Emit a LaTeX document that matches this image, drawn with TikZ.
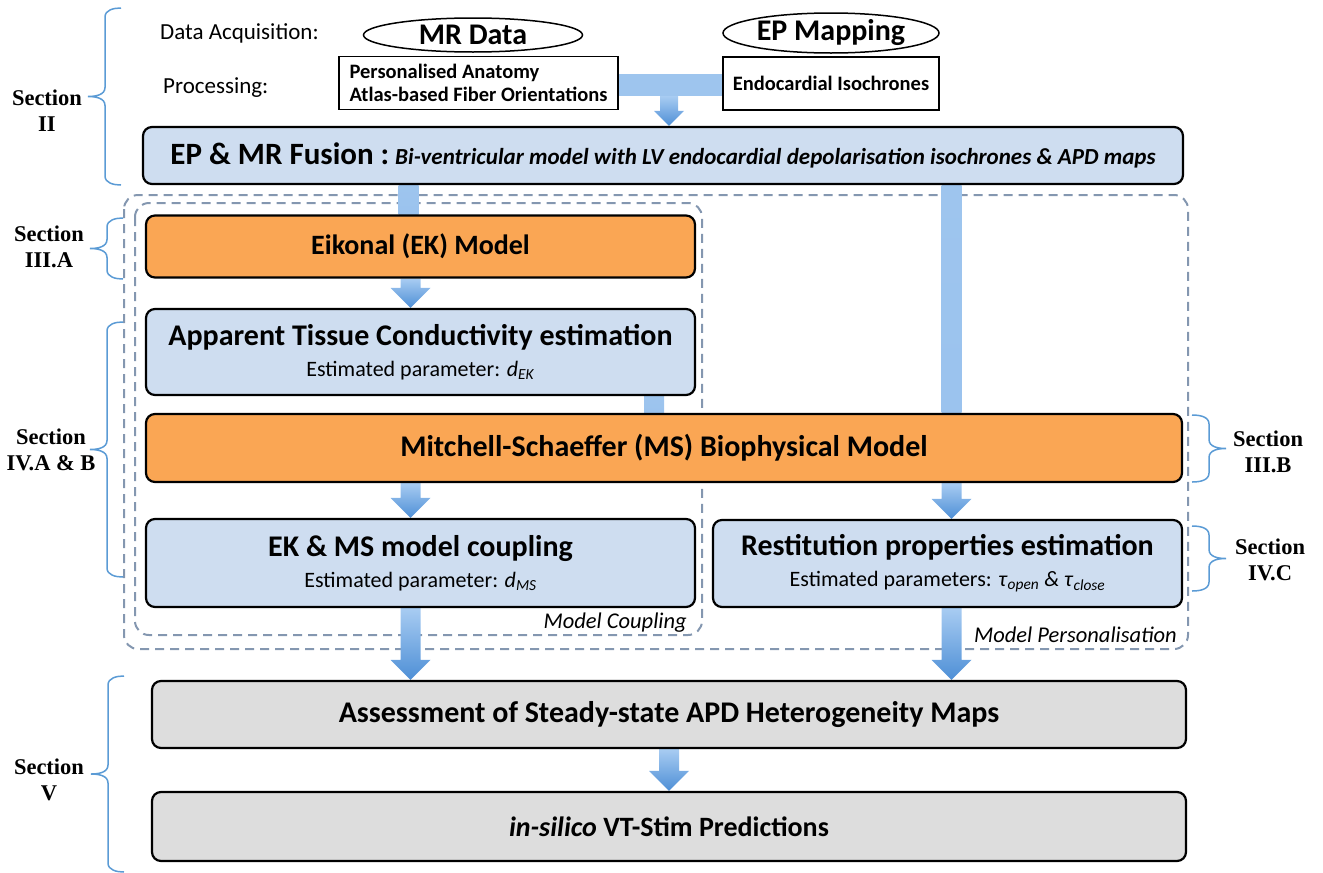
\documentclass[tikz,border=0pt]{standalone}
\usepackage{fontspec}
\setmainfont{Carlito}
\newfontfamily\secfont{Liberation Serif}
\usetikzlibrary{shapes.geometric,calc}
\pgfdeclarelayer{background}
\pgfsetlayers{background,main}
\definecolor{boxblue}{HTML}{CEDDF0}
\definecolor{boxorange}{HTML}{FAA654}
\definecolor{boxgray}{HTML}{DDDDDD}
\definecolor{dashc}{HTML}{8497B0}
\definecolor{bracec}{HTML}{5B9BD5}
\definecolor{arrtop}{HTML}{A8CCF2}
\definecolor{arrbot}{HTML}{4E8FD6}
\definecolor{barlight}{HTML}{9EC5EE}
\newcommand{\fsz}[2]{\fontsize{#1}{#2}\selectfont}
% block arrow: #1 start (y used), #2 tip (x and y used), #3 shaft half width, #4 head half width, #5 head length
\newcommand{\arrowdownx}[5]{%
  \shade[top color=arrtop,bottom color=arrbot] let \p1=(#1), \p2=(#2) in
  (\x2-#3,\y1) -- (\x2+#3,\y1) -- (\x2+#3,\y2+#5) -- (\x2+#4,\y2+#5)
  -- (\x2,\y2) -- (\x2-#4,\y2+#5) -- (\x2-#3,\y2+#5) -- cycle;}
\newcommand{\arrowdown}[2]{\arrowdownx{#1}{#2}{10pt}{20pt}{20pt}}
\newcommand{\bardown}[2]{%
  \shade[top color=barlight,bottom color=arrtop!85!arrbot] let \p1=(#1), \p2=(#2) in
  (\x2-10pt,\y1) rectangle (\x2+10pt,\y2);}
\newcommand{\leftbrace}[3]{%
  \draw[bracestyle] (#1,#2) to[out=180,in=90] ({#1-16},{#2+9}) -- ({#1-16},{(#2+#3)/2-9})
  to[out=-90,in=0] ({#1-33},{(#2+#3)/2}) to[out=0,in=90] ({#1-16},{(#2+#3)/2+9})
  -- ({#1-16},{#3-9}) to[out=-90,in=180] (#1,#3);}
\newcommand{\rightbrace}[3]{%
  \draw[bracestyle] (#1,#2) to[out=0,in=90] ({#1+17},{#2+9}) -- ({#1+17},{(#2+#3)/2-9})
  to[out=-90,in=180] ({#1+34},{(#2+#3)/2}) to[out=180,in=90] ({#1+17},{(#2+#3)/2+9})
  -- ({#1+17},{#3-9}) to[out=-90,in=0] (#1,#3);}
\tikzset{
  box/.style={draw=black, line width=2.2pt, rounded corners=9pt, inner sep=0pt, align=center},
  bluebox/.style={box, fill=boxblue},
  orangebox/.style={box, fill=boxorange},
  graybox/.style={box, fill=boxgray},
  plainbox/.style={draw=black, line width=1.6pt, fill=white, inner sep=0pt},
  oval/.style={ellipse, draw=black, line width=1.5pt, fill=white, inner sep=0pt, font=\bfseries\fsz{30}{34}},
  plainlbl/.style={inner sep=0pt, font=\fsz{23}{27}},
  seclbl/.style={inner sep=0pt, align=center, font=\secfont\bfseries\fsz{22.5}{26}},
  bracestyle/.style={draw=bracec, line width=1.5pt},
  dashbox/.style={draw=dashc, line width=2pt, dash pattern=on 9pt off 6pt, rounded corners=14pt},
  twoline/.style={font=\fsz{22}{31}},
  cornerlbl/.style={inner sep=0pt, font=\itshape\fsz{22.5}{26}}
}
\newcommand{\ttl}[1]{{\bfseries\fontsize{30}{31}\selectfont #1}}
\begin{document}
\begin{tikzpicture}[x=1pt,y=-1pt]
\useasboundingbox (0,0) rectangle (1323,873);

% acquisition row
\node[plainlbl, anchor=west] (acq) at (160,33) {Data Acquisition:};
\node[plainlbl, anchor=west] (proc) at (163,88) {Processing:};
\node[oval, minimum width=219pt, minimum height=34pt] (mr) at (473,35) {MR Data\hspace{14pt}};
\node[oval, minimum width=216pt, minimum height=40pt] (ep) at (831,33) {EP Mapping};
\node[plainbox, minimum width=279pt, minimum height=53pt,
      align=left, font=\bfseries\fsz{20.5}{23}] (pers) at (478.5,83)
      {Personalised Anatomy\\Atlas-based Fiber Orientations};
\node[plainbox, minimum width=216pt, minimum height=53pt, font=\bfseries\fsz{20.5}{24}] (endo) at (831,83.5)
      {Endocardial Isochrones};

% fusion
\node[bluebox, minimum width=1040pt, minimum height=57pt] (fusion) at (663,155.5)
  {{\bfseries\fsz{31}{34}EP \& MR Fusion :}\hspace{6pt}{\bfseries\itshape\fsz{23}{27}Bi-ventricular model with LV endocardial depolarisation isochrones \& APD maps}};

% model boxes
\node[orangebox, font=\bfseries\fsz{28}{32}, minimum width=549pt, minimum height=62pt] (eik) at (420.5,246.5) {Eikonal (EK) Model};
\node[bluebox, twoline, minimum width=549pt, minimum height=86pt] (app) at (420.5,352)
  {\ttl{Apparent Tissue Conductivity estimation}\\
   Estimated parameter: \textit{d}\textsubscript{\textit{EK}}};
\node[orangebox, font=\bfseries\fsz{30}{34}, minimum width=1036pt, minimum height=68pt] (ms) at (664,448)
  {Mitchell-Schaeffer (MS) Biophysical Model};
\node[bluebox, twoline, minimum width=549pt, minimum height=88pt] (ekms) at (420.5,563)
  {\ttl{EK \& MS model coupling}\\
   Estimated parameter: \textit{d}\textsubscript{\textit{MS}}};
\node[bluebox, twoline, minimum width=469pt, minimum height=87pt] (rest) at (947.5,563.5)
  {\ttl{Restitution properties estimation}\\
   Estimated parameters: \textit{τ}\textsubscript{\textit{open}} \textit{\&} \textit{τ}\textsubscript{\textit{close}}};
\node[graybox, minimum width=1034pt, minimum height=67pt, font=\bfseries\fsz{30}{34}] (assess) at (669,714.5)
  {Assessment of Steady-state APD Heterogeneity Maps};
\node[graybox, minimum width=1034pt, minimum height=69pt, font=\bfseries\fsz{28}{32}] (insilico) at (669,826.5)
  {\textit{in-silico} VT-Stim Predictions};

% corner labels
\node[cornerlbl, anchor=base east] (mclbl) at (687,628) {Model Coupling};
\node[cornerlbl, anchor=base east] (mplbl) at (1177,642) {Model Personalisation};

% junction
\coordinate (tj) at (669,85);
\coordinate (tjb) at (669,96);

\begin{pgfonlayer}{background}
  \draw[dashbox] (124,195) rectangle (1188,649);
  \draw[dashbox] (135,203) rectangle (702,635);
  \fill[barlight] ($(pers.east |- tj)+(0,-11)$) rectangle ($(endo.west |- tj)+(0,11)$);
  \arrowdownx{tjb}{tj |- fusion.north}{9pt}{15pt}{15pt}
  \bardown{fusion.south}{[xshift=-12pt]eik.north}
  \arrowdown{eik.south}{[xshift=-10pt]app.north}
  \bardown{app.south}{[xshift=-10pt]ms.north}
  \arrowdown{ms.south}{[xshift=-10pt]ekms.north}
  \arrowdown{ekms.south}{[xshift=-10pt]ekms.south |- assess.north}
  \bardown{fusion.south}{[xshift=4pt]rest.north |- ms.north}
  \arrowdown{ms.south}{[xshift=4pt]rest.north}
  \arrowdown{rest.south}{[xshift=4pt]rest.south |- assess.north}
  \arrowdown{assess.south}{insilico.north}
\end{pgfonlayer}

% braces and section labels
\leftbrace{121}{8}{185}
\leftbrace{123}{218}{279}
\leftbrace{123}{322}{577}
\leftbrace{124}{676}{872}
\rightbrace{1192}{415}{482}
\rightbrace{1192}{526}{591}
\node[seclbl] (s2) at (47,111) {Section\\II};
\node[seclbl] (s3a) at (49,247) {Section\\III.A};
\node[seclbl] (s4ab) at (51,450) {Section\\IV.A \& B};
\node[seclbl] (s5) at (49,780) {Section\\V};
\node[seclbl] (s3b) at (1268,452) {Section\\III.B};
\node[seclbl] (s4c) at (1270,560) {Section\\IV.C};
\end{tikzpicture}
\end{document}
